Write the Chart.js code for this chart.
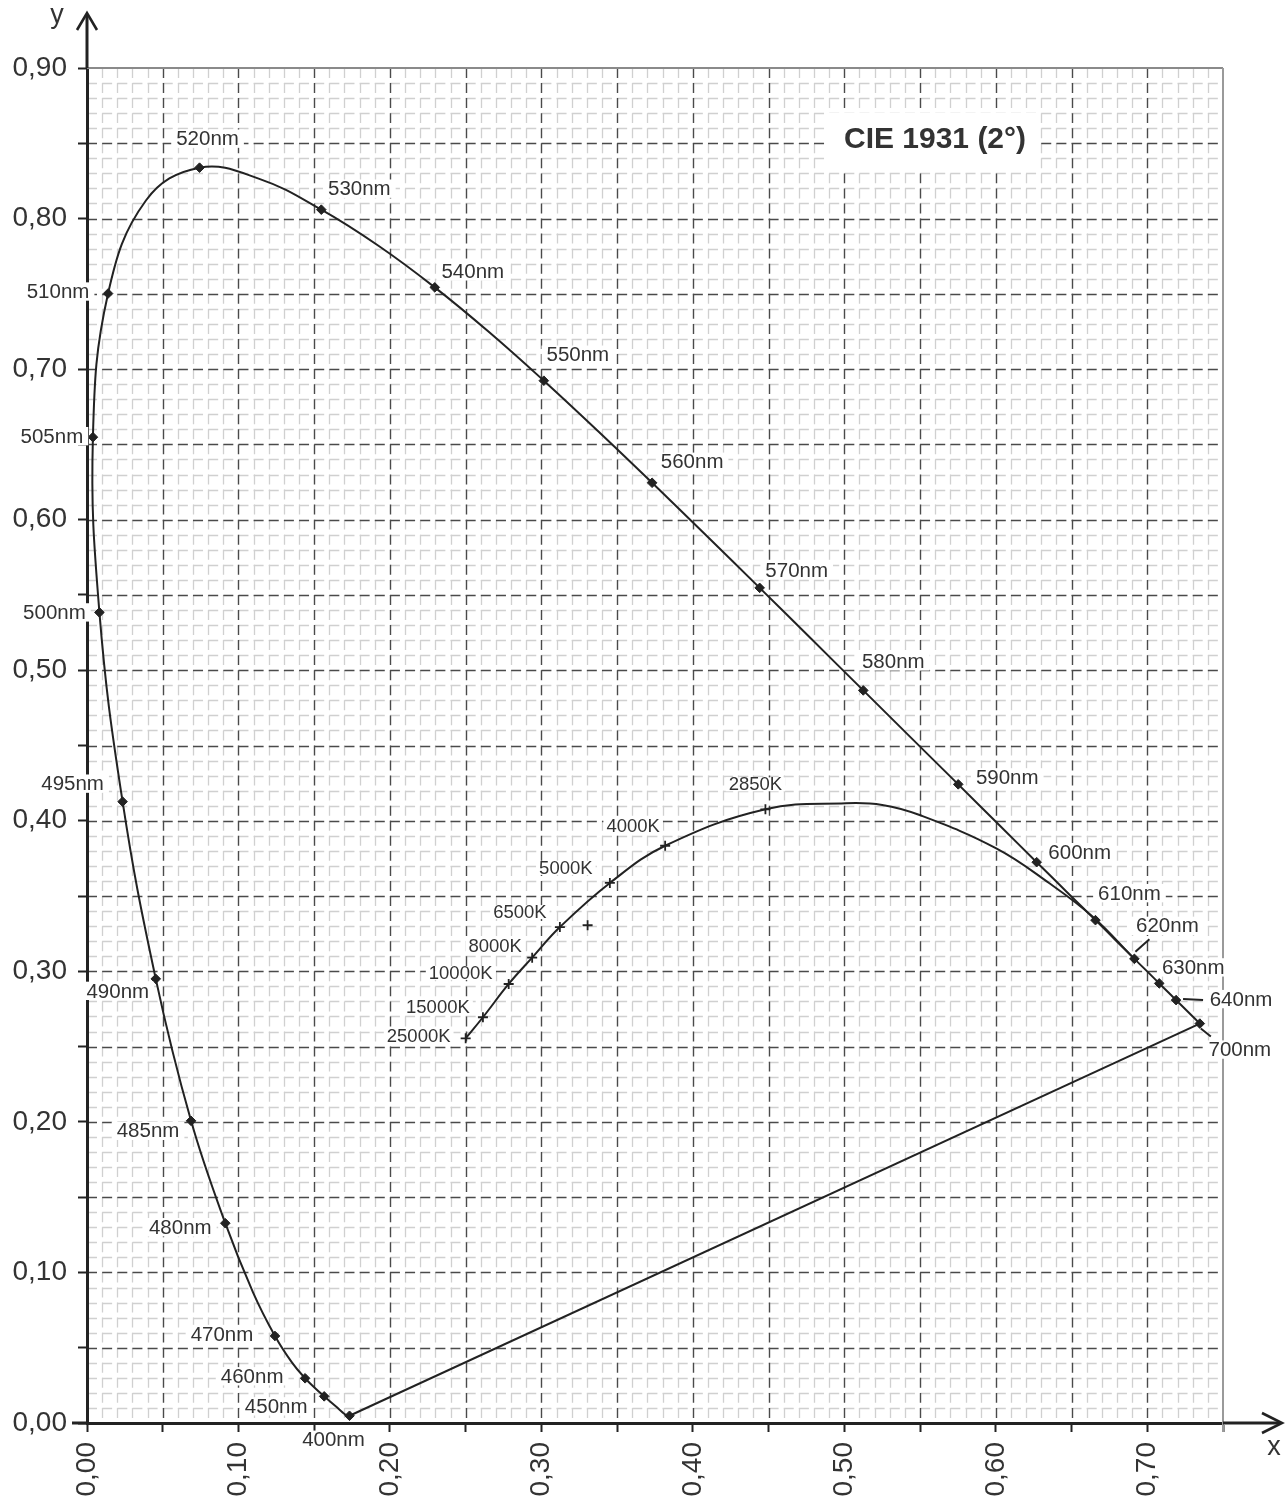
<!DOCTYPE html>
<html><head><meta charset="utf-8">
<script src="https://cdn.jsdelivr.net/npm/chart.js@4.4.1/dist/chart.umd.min.js"></script>
<style>html,body{margin:0;padding:0;background:#fff;} canvas{display:block;}</style>
</head><body>
<canvas id="c" width="1288" height="1506"></canvas>
<script>
// ---------------- DATA ----------------
const wavelengths = [400,410,420,430,440,450,455,460,465,470,475,480,485,490,495,500,505,510,515,520,525,530,535,540,545,550,555,560,565,570,575,580,585,590,595,600,605,610,615,620,625,630,635,640,650,660,680,700];
const locusX = [0.1733,0.1726,0.1714,0.1689,0.1644,0.1566,0.1510,0.1440,0.1355,0.1241,0.1096,0.0913,0.0687,0.0454,0.0235,0.0082,0.0039,0.0139,0.0389,0.0743,0.1142,0.1547,0.1929,0.2296,0.2658,0.3016,0.3373,0.3731,0.4087,0.4441,0.4788,0.5125,0.5448,0.5752,0.6029,0.6270,0.6482,0.6658,0.6801,0.6915,0.7006,0.7079,0.7140,0.7190,0.7260,0.7300,0.7334,0.7347];
const locusY = [0.0048,0.0048,0.0051,0.0069,0.0109,0.0177,0.0227,0.0297,0.0399,0.0578,0.0868,0.1327,0.2007,0.2950,0.4127,0.5384,0.6548,0.7502,0.8120,0.8338,0.8262,0.8059,0.7816,0.7543,0.7243,0.6923,0.6589,0.6245,0.5896,0.5547,0.5202,0.4866,0.4544,0.4242,0.3965,0.3725,0.3514,0.3340,0.3197,0.3083,0.2993,0.2920,0.2859,0.2809,0.2740,0.2700,0.2666,0.2653];
const markedWavelengths = [400,450,460,470,480,485,490,495,500,505,510,520,530,540,550,560,570,580,590,600,610,620,630,640,700];

const purpleLineX = [0.1733, 0.7347];
const purpleLineY = [0.0048, 0.2653];

const planckLabels = ['25000K','15000K','10000K','8000K','6500K','5000K','4000K','2850K'];
const planckX = [0.2500,0.2614,0.2784,0.2939,0.3122,0.3452,0.3817,0.4479];
const planckY = [0.2555,0.2695,0.2916,0.3091,0.3294,0.3587,0.3834,0.4076];
const planckTailX = [0.5011,0.5250,0.5497,0.6003,0.6354,0.6640,0.6915];
const planckTailY = [0.4116,0.4105,0.4038,0.3817,0.3585,0.3363,0.3083];

const extraPointX = [0.3305];
const extraPointY = [0.3306];

const xTickLabels = ['0,00','0,10','0,20','0,30','0,40','0,50','0,60','0,70'];
const yTickLabels = ['0,00','0,10','0,20','0,30','0,40','0,50','0,60','0,70','0,80','0,90'];

const titleText = 'CIE 1931 (2°)';

// ---------------- LABEL PLACEMENT (pixel offsets from marker) ----------------
const nmLabelOffsets = {
  400:[-16,24], 450:[-48,10], 460:[-53,-2], 470:[-53,-2], 480:[-45,4], 485:[-43,10],
  490:[-38,12], 495:[-50,-18], 500:[-45,0], 505:[-41,-1], 510:[-50,-2], 520:[8,-29],
  530:[38,-21], 540:[38,-16], 550:[34,-26], 560:[40,-21], 570:[37,-18], 580:[30,-29],
  590:[49,-7], 600:[43,-10], 610:[34,-27], 620:[33,-33], 630:[34,-16], 640:[65,-1], 700:[40,26]
};
const nmLeaders = { 620:[[1,-7],[15,-19.5]], 640:[[7,-1],[27,0]], 700:[[1,5],[11,13]] };
const planckLabelOffsets = [[-47,-2],[-45,-10],[-48,-11],[-37,-12],[-40,-15],[-44,-15],[-32,-20],[-10,-25]];

// ---------------- BUILD ----------------
const locusPts = wavelengths.map((w,i)=>({x:locusX[i], y:locusY[i]}));
const locusRadii = wavelengths.map(w => markedWavelengths.includes(w) ? 4.8 : 0);
const purplePts = purpleLineX.map((x,i)=>({x, y:purpleLineY[i]}));
const planckPts = planckX.map((x,i)=>({x, y:planckY[i]})).concat(planckTailX.map((x,i)=>({x, y:planckTailY[i]})));
const planckRadii = planckPts.map((p,i)=> i < planckX.length ? 5 : 0);
const extraPts = extraPointX.map((x,i)=>({x, y:extraPointY[i]}));

const FONT = "'Liberation Sans', Arial, sans-serif";
const INK = '#222';
const TXT = '#333';

function isTenth(v){ return Math.round(v*100) % 10 === 0; }

const bgGridPlugin = {
  id: 'bgGrid',
  beforeDraw(chart){
    const ctx = chart.ctx, a = chart.chartArea, xs = chart.scales.x, ys = chart.scales.y;
    ctx.save();
    ctx.fillStyle = '#fff';
    ctx.fillRect(0,0,chart.width,chart.height);
    const stepX = xs.getPixelForValue(0.01) - xs.getPixelForValue(0);
    const stepY = ys.getPixelForValue(0) - ys.getPixelForValue(0.01);
    for (const pass of ['minor','major']) {
      ctx.strokeStyle = pass === 'minor' ? '#d0d0d0' : '#4a4a4a';
      ctx.lineWidth = pass === 'minor' ? 1.3 : 1.4;
      ctx.setLineDash([stepY*0.66, stepY*0.34]);
      for (let i = 1; i < 75; i++) {
        const maj = i % 5 === 0;
        if ((pass==='major') !== maj) continue;
        const px = Math.round(xs.getPixelForValue(i/100)) + 0.5;
        ctx.beginPath(); ctx.moveTo(px, a.top); ctx.lineTo(px, a.bottom); ctx.stroke();
      }
      ctx.setLineDash([stepX*0.66, stepX*0.34]);
      for (let j = 1; j < 90; j++) {
        const maj = j % 5 === 0;
        if ((pass==='major') !== maj) continue;
        const py = Math.round(ys.getPixelForValue(j/100)) + 0.5;
        ctx.beginPath(); ctx.moveTo(a.left, py); ctx.lineTo(a.right, py); ctx.stroke();
      }
    }
    ctx.setLineDash([]);
    ctx.restore();
  }
};

function labelBox(ctx, text, cx, cy, font, padX, padY){
  ctx.font = font;
  const w = ctx.measureText(text).width;
  const m = ctx.measureText('0');
  const h = m.actualBoundingBoxAscent;
  ctx.fillStyle = '#fff';
  ctx.fillRect(cx - w/2 - padX, cy - h/2 - padY, w + 2*padX, h + 2*padY);
  ctx.fillStyle = TXT;
  ctx.textAlign = 'center';
  ctx.textBaseline = 'middle';
  ctx.fillText(text, cx, cy + 1);
}

const overlayPlugin = {
  id: 'overlay',
  afterDraw(chart){
    const ctx = chart.ctx, a = chart.chartArea, xs = chart.scales.x, ys = chart.scales.y;
    ctx.save();
    ctx.strokeStyle = '#8a8a8a'; ctx.lineWidth = 2;
    ctx.beginPath(); ctx.moveTo(a.left, a.top); ctx.lineTo(a.right, a.top); ctx.stroke();
    ctx.strokeStyle = '#9a9a9a';
    ctx.beginPath(); ctx.moveTo(a.right, a.top); ctx.lineTo(a.right, a.bottom + 9); ctx.stroke();
    ctx.strokeStyle = INK; ctx.lineWidth = 3; ctx.lineCap = 'butt';
    ctx.beginPath(); ctx.moveTo(a.left, a.top); ctx.lineTo(a.left, 14); ctx.stroke();
    ctx.beginPath(); ctx.moveTo(72, a.bottom); ctx.lineTo(a.left, a.bottom); ctx.stroke();
    ctx.beginPath(); ctx.moveTo(a.right, a.bottom); ctx.lineTo(1280, a.bottom); ctx.stroke();
    ctx.lineWidth = 2.6;
    ctx.beginPath(); ctx.moveTo(a.left - 10, 30); ctx.lineTo(a.left, 13); ctx.lineTo(a.left + 10, 30); ctx.stroke();
    ctx.beginPath(); ctx.moveTo(1262, a.bottom - 10); ctx.lineTo(1282, a.bottom); ctx.lineTo(1262, a.bottom + 10); ctx.stroke();
    ctx.fillStyle = TXT; ctx.font = '27px ' + FONT; ctx.textAlign = 'center'; ctx.textBaseline = 'middle';
    ctx.fillText('y', 57, 16);
    ctx.fillText('x', 1274, 1448);

    const nmFont = '20.5px ' + FONT;
    wavelengths.forEach((w,i)=>{
      if (!nmLabelOffsets[w]) return;
      const px = xs.getPixelForValue(locusX[i]), py = ys.getPixelForValue(locusY[i]);
      const o = nmLabelOffsets[w];
      labelBox(ctx, w + 'nm', px + o[0], py + o[1], nmFont, 5, 5);
      if (nmLeaders[w]) {
        const l = nmLeaders[w];
        ctx.strokeStyle = INK; ctx.lineWidth = 2;
        ctx.beginPath(); ctx.moveTo(px + l[0][0], py + l[0][1]); ctx.lineTo(px + l[1][0], py + l[1][1]); ctx.stroke();
      }
    });
    const kFont = '18.5px ' + FONT;
    planckLabels.forEach((t,i)=>{
      const px = xs.getPixelForValue(planckX[i]), py = ys.getPixelForValue(planckY[i]);
      const o = planckLabelOffsets[i];
      labelBox(ctx, t, px + o[0], py + o[1], kFont, 3, 3);
    });
    ctx.fillStyle = '#fff';
    ctx.fillRect(826, 113, 213, 56);
    ctx.fillStyle = TXT; ctx.font = 'bold 30px ' + FONT; ctx.textAlign = 'center'; ctx.textBaseline = 'middle';
    ctx.fillText(titleText, 935, 140);
    ctx.restore();
  }
};

new Chart(document.getElementById('c'), {
  type: 'scatter',
  data: {
    datasets: [
      { label:'locus', data: locusPts, showLine:true, tension:0.4, borderColor:INK, borderWidth:2,
        pointStyle:'rectRot', pointRadius: locusRadii, pointBackgroundColor:INK, pointBorderColor:INK, pointBorderWidth:1 },
      { label:'purple', data: purplePts, showLine:true, tension:0, borderColor:INK, borderWidth:2, pointRadius:0 },
      { label:'planck', data: planckPts, showLine:true, tension:0.4, borderColor:INK, borderWidth:2,
        pointStyle:'cross', pointRadius: planckRadii, pointBorderColor:INK, pointBorderWidth:1.8 },
      { label:'extra', data: extraPts, showLine:false, pointStyle:'cross', pointRadius:5, pointBorderColor:INK, pointBorderWidth:1.8 }
    ]
  },
  options: {
    responsive:false, animation:false, devicePixelRatio:1,
    layout:{ padding:{ left:0, top:68, right:65, bottom:0 } },
    plugins:{ legend:{display:false}, tooltip:{enabled:false}, title:{display:false} },
    scales:{
      x:{ type:'linear', min:0, max:0.75, position:'bottom',
        afterFit(s){ s.height = 83; },
        ticks:{ stepSize:0.05, autoSkip:false, minRotation:90, maxRotation:90, padding:10,
          font:{ family:FONT, size:28 }, color:TXT,
          callback:(v)=> isTenth(v) ? xTickLabels[Math.round(v*10)] : '' },
        grid:{ drawOnChartArea:false, drawTicks:true, tickLength:9, tickColor:INK, tickWidth:2 },
        border:{ display:true, color:INK, width:3 }
      },
      y:{ type:'linear', min:0, max:0.9, position:'left',
        afterFit(s){ s.width = 87; },
        ticks:{ stepSize:0.05, autoSkip:false, padding:11,
          font:{ family:FONT, size:28 }, color:TXT,
          callback:(v)=> isTenth(v) ? yTickLabels[Math.round(v*10)] : '' },
        grid:{ drawOnChartArea:false, drawTicks:true, tickLength:9, tickColor:INK, tickWidth:2 },
        border:{ display:true, color:INK, width:3 }
      }
    }
  },
  plugins:[bgGridPlugin, overlayPlugin]
});
</script>
</body></html>
